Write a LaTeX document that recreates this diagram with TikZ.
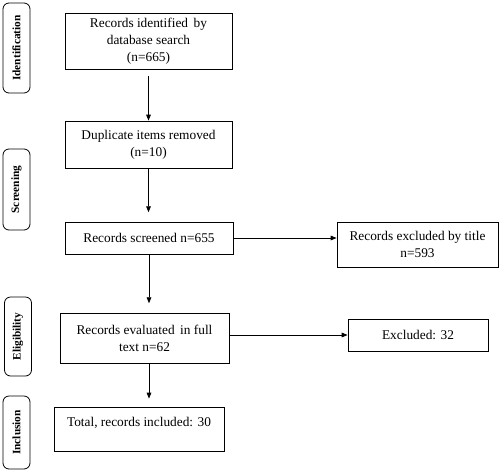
\documentclass[tikz,border=0pt]{standalone}
\usepackage{fontspec}
\setmainfont{Liberation Serif}
\usetikzlibrary{arrows.meta}
\begin{document}
\begin{tikzpicture}[x=0.75pt, y=-0.75pt]
\tikzset{
	box/.style = {
		draw, rectangle, line width=0.6pt,
		align=center, inner sep=0pt,
		font=\fontsize{10}{12.75}\selectfont
	},
	stage/.style={
		draw, rounded corners=4.5pt, line width=0.6pt,
		rotate=90, inner sep=0pt, minimum height=20.25pt,
		font=\fontsize{8.5}{10}\selectfont\bfseries
	},
	every edge/.style={
		draw, line width=0.6pt, -{Triangle[length=4.5pt,width=3.5pt]}
	},
}
\useasboundingbox (0,0) rectangle (500,472);

% stages on the left
\foreach \n/\x/\y/\l/\t in {ident/16.5/48/90/Identification,
  screen/16.5/189.5/81/Screening, elig/18/336.5/79/Eligibility,
  incl/16.5/432.5/73/Inclusion}
{
  \node[stage, minimum width=\l*0.75pt] (\n) at (\x, \y) {\t};
}

% main column
\node [box, minimum width=125.25pt, minimum height=42pt] (ident1) at (148.5, 41)
  {Records identified\, by\\ database search\\ (n=665)};
\node [box, minimum width=125.25pt, minimum height=35.25pt] (dup) at (148.5, 144.5)
  {Duplicate items removed\\ (n=10)};
\node [box, minimum width=126pt, minimum height=24pt] (screened) at (149, 238)
  {Records screened n=655};
\node [box, minimum width=126.75pt, minimum height=37.5pt] (full) at (144.5, 338)
  {Records evaluated\, in full\\ text n=62};
\node [box, minimum width=127.5pt, text height=14.25pt, text depth=18.75pt,
  anchor=base] (total) at (139, 426) {Total, records included: 30};

% excluded
\node [box, minimum width=120.75pt, minimum height=33.75pt] (bytitle) at (417.5, 244.5)
  {Records excluded by title\\ n=593};
\node [box, minimum width=105pt, minimum height=24pt] (excl) at (418, 335)
  {Excluded: 32};

% attach them
\path (ident1.south) edge [shorten <=5pt] (ident1.south |- dup.north);
\path (dup.south) edge [shorten >=7pt] (dup.south |- screened.north);
\path (screened.south) edge [shorten >=7pt] (screened.south |- full.north);
\path (screened.south |- full.south) edge [shorten >=6pt] (screened.south |- total.north);
\path (screened.east) edge (screened.east -| bytitle.west);
\path (excl.west -| full.east) edge (excl.west);

\end{tikzpicture}
\end{document}
